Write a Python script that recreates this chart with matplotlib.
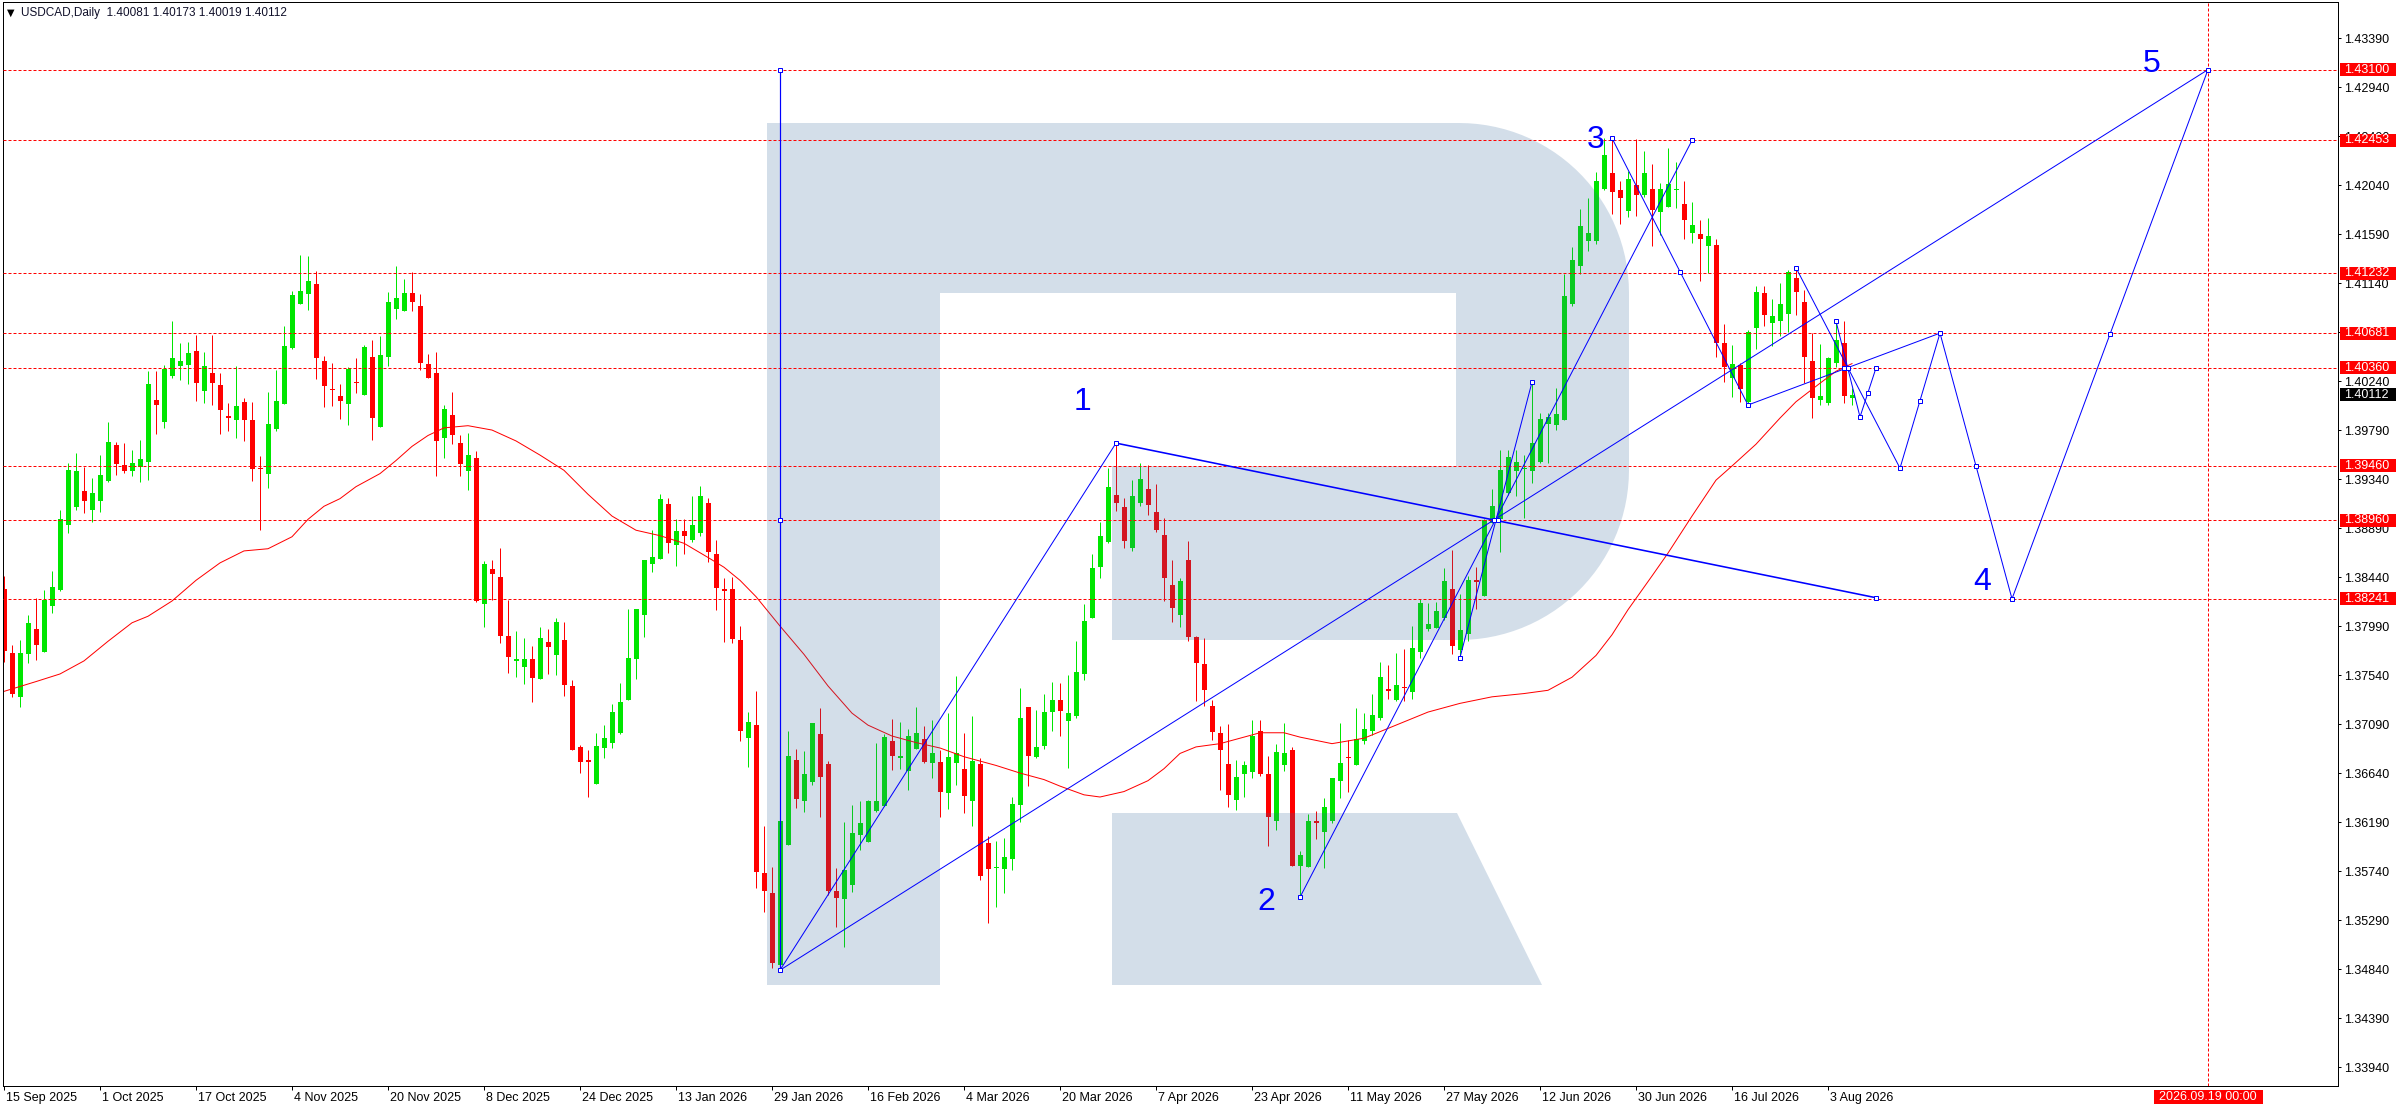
import numpy as np
import matplotlib

matplotlib.use("Agg")
import matplotlib.pyplot as plt
import matplotlib.transforms as mtransforms
from matplotlib.patches import PathPatch, Rectangle
from matplotlib.path import Path

W, H, DPI = 2396, 1110, 100
PX = 72 / DPI  # one pixel in points

plt.rcParams["font.family"] = ["Liberation Sans", "DejaVu Sans"]
plt.rcParams["lines.scale_dashes"] = False

BULL = "#00e600"
BEAR = "#ff0000"
BLUE = "#0000ff"
WATERMARK = "#30659a"

# ---- daily USDCAD bars, 15 Sep 2025 .. 6 Aug 2026 ----
opens = [
    1.3833, 1.3774, 1.3734, 1.3773, 1.3796, 1.3775, 1.3817, 1.3832, 1.3892, 1.3908,
    1.3923, 1.3906, 1.3914, 1.3932, 1.3965, 1.3947, 1.3941, 1.3945, 1.3950, 1.4007,
    1.3986, 1.4029, 1.4038, 1.4039, 1.4052, 1.4015, 1.4031, 1.4020, 1.3992, 1.3988,
    1.4005, 1.3988, 1.3944, 1.3939, 1.3980, 1.4003, 1.4054, 1.4095, 1.4104, 1.4113,
    1.4042, 1.4017, 1.4010, 1.4003, 1.4023, 1.4011, 1.4046, 1.3982, 1.4046, 1.4090,
    1.4088, 1.4105, 1.4093, 1.4040, 1.4031, 1.3972, 1.3993, 1.3967, 1.3941, 1.3953,
    1.3819, 1.3851, 1.3844, 1.3790, 1.3767, 1.3761, 1.3769, 1.3750, 1.3784, 1.3772,
    1.3786, 1.3744, 1.3688, 1.3676, 1.3654, 1.3687, 1.3692, 1.3701, 1.3731, 1.3769,
    1.3809, 1.3856, 1.3861, 1.3911, 1.3873, 1.3886, 1.3878, 1.3884, 1.3912, 1.3865,
    1.3833, 1.3833, 1.3786, 1.3696, 1.3708, 1.3572, 1.3554, 1.3488, 1.3598, 1.3676,
    1.3638, 1.3656, 1.3700, 1.3672, 1.3556, 1.3548, 1.3561, 1.3607, 1.3601, 1.3629,
    1.3634, 1.3693, 1.3678, 1.3666, 1.3686, 1.3695, 1.3673, 1.3674, 1.3646, 1.3673,
    1.3668, 1.3638, 1.3672, 1.3600, 1.3577, 1.3576, 1.3585, 1.3635, 1.3725, 1.3679,
    1.3689, 1.3720, 1.3731, 1.3712, 1.3716, 1.3755, 1.3806, 1.3853, 1.3876, 1.3919,
    1.3908, 1.3871, 1.3912, 1.3925, 1.3904, 1.3883, 1.3837, 1.3809, 1.3860, 1.3789,
    1.3764, 1.3726, 1.3701, 1.3672, 1.3639, 1.3663, 1.3665, 1.3703, 1.3663, 1.3620,
    1.3671, 1.3685, 1.3579, 1.3578, 1.3620, 1.3610, 1.3620, 1.3657, 1.3679, 1.3671,
    1.3693, 1.3703, 1.3715, 1.3741, 1.3731, 1.3743, 1.3738, 1.3775, 1.3796, 1.3797,
    1.3806, 1.3833, 1.3777, 1.3792, 1.3841, 1.3827, 1.3894, 1.3897, 1.3921, 1.3941,
    1.3943, 1.3941, 1.3950, 1.3985, 1.3984, 1.3988, 1.4095, 1.4130, 1.4153, 1.4153,
    1.4200, 1.4215, 1.4199, 1.4180, 1.4204, 1.4195, 1.4200, 1.4179, 1.4184, 1.4199,
    1.4187, 1.4160, 1.4159, 1.4148, 1.4149, 1.4059, 1.4027, 1.4039, 1.4005, 1.4073,
    1.4105, 1.4077, 1.4079, 1.4086, 1.4119, 1.4097, 1.4042, 1.4007, 1.4004, 1.4041,
    1.4059, 1.40081,
]
highs = [
    1.3845, 1.3782, 1.3786, 1.3809, 1.3825, 1.3832, 1.3850, 1.3906, 1.3949, 1.3958,
    1.3945, 1.3935, 1.3956, 1.3986, 1.3968, 1.3967, 1.3961, 1.3970, 1.4033, 1.4033,
    1.4039, 1.4079, 1.4059, 1.4060, 1.4066, 1.4051, 1.4066, 1.4031, 1.4004, 1.4038,
    1.4008, 1.4005, 1.3955, 1.4014, 1.4034, 1.4075, 1.4107, 1.4140, 1.4139, 1.4125,
    1.4047, 1.4041, 1.4021, 1.4037, 1.4045, 1.4057, 1.4062, 1.4065, 1.4106, 1.4130,
    1.4118, 1.4124, 1.4104, 1.4049, 1.4051, 1.4002, 1.4014, 1.3974, 1.3976, 1.3960,
    1.3859, 1.3860, 1.3871, 1.3823, 1.3794, 1.3788, 1.3781, 1.3798, 1.3796, 1.3806,
    1.3803, 1.3749, 1.3690, 1.3685, 1.3701, 1.3708, 1.3727, 1.3747, 1.3815, 1.3815,
    1.3860, 1.3887, 1.3920, 1.3917, 1.3897, 1.3897, 1.3918, 1.3928, 1.3917, 1.3878,
    1.3843, 1.3844, 1.3799, 1.3720, 1.3739, 1.3615, 1.3578, 1.3620, 1.3703, 1.3686,
    1.3684, 1.3710, 1.3724, 1.3675, 1.3577, 1.3619, 1.3635, 1.3638, 1.3639, 1.3692,
    1.3700, 1.3714, 1.3711, 1.3704, 1.3725, 1.3707, 1.3713, 1.3685, 1.3719, 1.3753,
    1.3701, 1.3716, 1.3678, 1.3606, 1.3602, 1.3604, 1.3642, 1.3742, 1.3725, 1.3722,
    1.3737, 1.3748, 1.3747, 1.3754, 1.3785, 1.3819, 1.3865, 1.3895, 1.3944, 1.3967,
    1.3917, 1.3933, 1.3949, 1.3947, 1.3929, 1.3898, 1.3860, 1.3843, 1.3877, 1.3790,
    1.3788, 1.3731, 1.3707, 1.3709, 1.3676, 1.3675, 1.3713, 1.3713, 1.3680, 1.3691,
    1.3710, 1.3688, 1.3592, 1.3626, 1.3629, 1.3641, 1.3659, 1.3710, 1.3694, 1.3724,
    1.3719, 1.3737, 1.3766, 1.3763, 1.3774, 1.3778, 1.3799, 1.3824, 1.3820, 1.3821,
    1.3852, 1.3869, 1.3828, 1.3845, 1.3853, 1.3897, 1.3925, 1.3961, 1.3961, 1.3961,
    1.3956, 1.4023, 1.3995, 1.3995, 1.4018, 1.4122, 1.4147, 1.4182, 1.4192, 1.4216,
    1.4247, 1.4247, 1.4208, 1.4217, 1.4246, 1.4235, 1.4223, 1.4206, 1.4238, 1.4225,
    1.4208, 1.4188, 1.4172, 1.4174, 1.4154, 1.4076, 1.4057, 1.4041, 1.4071, 1.4111,
    1.4111, 1.4099, 1.4114, 1.4126, 1.4128, 1.4108, 1.4068, 1.4058, 1.4046, 1.4080,
    1.4079, 1.40173,
]
lows = [
    1.3766, 1.3734, 1.3725, 1.3765, 1.3768, 1.3775, 1.3811, 1.3831, 1.3884, 1.3906,
    1.3903, 1.3895, 1.3904, 1.3931, 1.3938, 1.3940, 1.3937, 1.3931, 1.3933, 1.3975,
    1.3981, 1.4027, 1.4025, 1.4021, 1.4006, 1.4004, 1.4002, 1.3975, 1.3978, 1.3972,
    1.3969, 1.3932, 1.3887, 1.3926, 1.3978, 1.4003, 1.4053, 1.4095, 1.4089, 1.4026,
    1.4000, 1.4001, 1.3989, 1.3984, 1.4013, 1.4011, 1.3970, 1.3982, 1.4038, 1.4081,
    1.4088, 1.4088, 1.4034, 1.4027, 1.3937, 1.3953, 1.3966, 1.3937, 1.3924, 1.3821,
    1.3798, 1.3823, 1.3783, 1.3756, 1.3752, 1.3746, 1.3729, 1.3750, 1.3755, 1.3754,
    1.3735, 1.3685, 1.3664, 1.3642, 1.3654, 1.3678, 1.3687, 1.3700, 1.3731, 1.3750,
    1.3789, 1.3849, 1.3861, 1.3866, 1.3854, 1.3865, 1.3876, 1.3882, 1.3858, 1.3814,
    1.3784, 1.3783, 1.3693, 1.3670, 1.3558, 1.3536, 1.3485, 1.3483, 1.3598, 1.3632,
    1.3628, 1.3653, 1.3624, 1.3552, 1.3523, 1.3504, 1.3555, 1.3593, 1.3601, 1.3628,
    1.3634, 1.3667, 1.3668, 1.3648, 1.3686, 1.3673, 1.3659, 1.3624, 1.3631, 1.3653,
    1.3627, 1.3615, 1.3566, 1.3526, 1.3541, 1.3554, 1.3575, 1.3619, 1.3652, 1.3678,
    1.3686, 1.3703, 1.3698, 1.3669, 1.3715, 1.3749, 1.3806, 1.3843, 1.3875, 1.3905,
    1.3871, 1.3868, 1.3909, 1.3901, 1.3885, 1.3822, 1.3803, 1.3798, 1.3785, 1.3730,
    1.3726, 1.3694, 1.3648, 1.3633, 1.3630, 1.3642, 1.3659, 1.3661, 1.3597, 1.3612,
    1.3666, 1.3579, 1.3550, 1.3578, 1.3603, 1.3577, 1.3618, 1.3641, 1.3647, 1.3671,
    1.3691, 1.3699, 1.3713, 1.3732, 1.3730, 1.3730, 1.3732, 1.3770, 1.3794, 1.3797,
    1.3805, 1.3773, 1.3770, 1.3785, 1.3815, 1.3827, 1.3894, 1.3867, 1.3919, 1.3918,
    1.3898, 1.3930, 1.3949, 1.3949, 1.3979, 1.3988, 1.4093, 1.4122, 1.4143, 1.4150,
    1.4199, 1.4177, 1.4168, 1.4175, 1.4176, 1.4193, 1.4148, 1.4158, 1.4184, 1.4183,
    1.4154, 1.4151, 1.4116, 1.4123, 1.4046, 1.4023, 1.4009, 1.4005, 1.4002, 1.4053,
    1.4075, 1.4056, 1.4065, 1.4069, 1.4085, 1.4022, 1.3990, 1.4002, 1.4002, 1.4037,
    1.4004, 1.40019,
]
closes = [
    1.3776, 1.3737, 1.3774, 1.3802, 1.3782, 1.3823, 1.3835, 1.3897, 1.3942, 1.3941,
    1.3914, 1.3921, 1.3938, 1.3968, 1.3948, 1.3941, 1.3949, 1.3952, 1.4021, 1.4002,
    1.4035, 1.4045, 1.4042, 1.4050, 1.4022, 1.4038, 1.4022, 1.3997, 1.3990, 1.4001,
    1.3988, 1.3943, 1.3943, 1.3985, 1.4006, 1.4056, 1.4103, 1.4107, 1.4116, 1.4045,
    1.4019, 1.4016, 1.4006, 1.4035, 1.4022, 1.4055, 1.3990, 1.4048, 1.4097, 1.4100,
    1.4105, 1.4097, 1.4041, 1.4027, 1.3969, 1.3998, 1.3974, 1.3948, 1.3956, 1.3822,
    1.3856, 1.3847, 1.3790, 1.3771, 1.3769, 1.3769, 1.3751, 1.3788, 1.3780, 1.3803,
    1.3745, 1.3685, 1.3674, 1.3674, 1.3689, 1.3696, 1.3720, 1.3729, 1.3770, 1.3815,
    1.3860, 1.3862, 1.3916, 1.3875, 1.3886, 1.3882, 1.3892, 1.3918, 1.3867, 1.3834,
    1.3831, 1.3787, 1.3703, 1.3711, 1.3573, 1.3556, 1.3490, 1.3620, 1.3680, 1.3640,
    1.3663, 1.3710, 1.3660, 1.3556, 1.3549, 1.3575, 1.3609, 1.3618, 1.3638, 1.3638,
    1.3697, 1.3680, 1.3680, 1.3698, 1.3701, 1.3674, 1.3682, 1.3647, 1.3679, 1.3682,
    1.3643, 1.3675, 1.3569, 1.3576, 1.3577, 1.3587, 1.3636, 1.3715, 1.3680, 1.3688,
    1.3720, 1.3731, 1.3721, 1.3719, 1.3757, 1.3804, 1.3852, 1.3882, 1.3927, 1.3912,
    1.3877, 1.3918, 1.3934, 1.3910, 1.3887, 1.3843, 1.3816, 1.3840, 1.3789, 1.3765,
    1.3740, 1.3702, 1.3685, 1.3644, 1.3660, 1.3671, 1.3698, 1.3663, 1.3624, 1.3683,
    1.3682, 1.3579, 1.3589, 1.3620, 1.3618, 1.3633, 1.3659, 1.3673, 1.3678, 1.3695,
    1.3704, 1.3717, 1.3752, 1.3739, 1.3745, 1.3742, 1.3779, 1.3820, 1.3801, 1.3813,
    1.3840, 1.3781, 1.3795, 1.3841, 1.3839, 1.3896, 1.3909, 1.3942, 1.3954, 1.3950,
    1.3944, 1.3967, 1.3989, 1.3991, 1.3994, 1.4102, 1.4135, 1.4166, 1.4160, 1.4208,
    1.4232, 1.4198, 1.4192, 1.4210, 1.4195, 1.4215, 1.4181, 1.4200, 1.4205, 1.4200,
    1.4172, 1.4167, 1.4154, 1.4157, 1.4059, 1.4037, 1.4040, 1.4017, 1.4069, 1.4106,
    1.4085, 1.4084, 1.4095, 1.4124, 1.4106, 1.4046, 1.4008, 1.4010, 1.4045, 1.4062,
    1.4010, 1.40112,
]

# moving average line (bar index, value)
ma_bars = [0, 4, 7, 10, 13, 16, 18, 21, 24, 27, 30, 33, 36, 38, 40, 42, 44, 47, 49, 51,
           53, 55, 58, 61, 64, 67, 70, 73, 76, 79, 82, 85, 88, 90, 92, 94, 97, 100, 103,
           106, 108, 111, 114, 117, 120, 124, 127, 130, 132, 135, 137, 140, 143, 145,
           147, 149, 152, 155, 157, 160, 162, 166, 170, 174, 178, 182, 186, 190, 193,
           196, 199, 201, 203, 206, 208, 211, 214, 216, 219, 222, 224, 227, 229, 231]
ma_values = [1.3739, 1.3748, 1.3755, 1.3767, 1.3785, 1.3802, 1.3808, 1.3822, 1.3841, 1.3857,
             1.3868, 1.3870, 1.3881, 1.3897, 1.3909, 1.3916, 1.3927, 1.3939, 1.3951, 1.3964,
             1.3974, 1.3981, 1.3983, 1.3979, 1.3969, 1.3956, 1.3942, 1.3920, 1.3900, 1.3887,
             1.3882, 1.3875, 1.3862, 1.3853, 1.3841, 1.3826, 1.3799, 1.3773, 1.3744, 1.3719,
             1.3708, 1.3698, 1.3692, 1.3687, 1.3679, 1.3671, 1.3664, 1.3658, 1.3652, 1.3644,
             1.3642, 1.3647, 1.3657, 1.3668, 1.3682, 1.3688, 1.3691, 1.3697, 1.3701, 1.3701,
             1.3697, 1.3691, 1.3696, 1.3708, 1.3720, 1.3728, 1.3734, 1.3737, 1.3740, 1.3752,
             1.3772, 1.3791, 1.3814, 1.3845, 1.3866, 1.3900, 1.3933, 1.3946, 1.3966, 1.3990,
             1.4005, 1.4022, 1.4033, 1.4040]

date_labels = ["15 Sep 2025", "1 Oct 2025", "17 Oct 2025", "4 Nov 2025", "20 Nov 2025",
               "8 Dec 2025", "24 Dec 2025", "13 Jan 2026", "29 Jan 2026", "16 Feb 2026",
               "4 Mar 2026", "20 Mar 2026", "7 Apr 2026", "23 Apr 2026", "11 May 2026",
               "27 May 2026", "12 Jun 2026", "30 Jun 2026", "16 Jul 2026", "3 Aug 2026"]
BARS_PER_LABEL = 12

price_ticks = [1.43390, 1.42940, 1.42490, 1.42040, 1.41590, 1.41140, 1.40690, 1.40240,
               1.39790, 1.39340, 1.38890, 1.38440, 1.37990, 1.37540, 1.37090, 1.36640,
               1.36190, 1.35740, 1.35290, 1.34840, 1.34390, 1.33940]

level_prices = [1.43100, 1.42453, 1.41232, 1.40681, 1.40360, 1.39460, 1.38960, 1.38241]
level_labels = ["1.43100", "1.42453", "1.41232", "1.40681", "1.40360", "1.39460", "1.38960", "1.38241"]
last_price = 1.40112
target_bar = 275.5
target_label = "2026.09.19 00:00"

# wave drawing objects: (bar0, price0, bar1, price1)
wave_segments = [
    (97, 1.4310, 97, 1.3483),
    (97, 1.3483, 139, 1.3967),
    (139, 1.3967, 234, 1.3825),
    (97, 1.3483, 275.5, 1.4310),
    (162, 1.3550, 211, 1.4245),
    (182, 1.3770, 191, 1.4023),
    (201, 1.4247, 218, 1.4002),
    (218, 1.4002, 242, 1.4068),
    (224, 1.4128, 237, 1.3944),
    (229, 1.4079, 232, 1.3991),
    (232, 1.3991, 234, 1.4036),
    (237, 1.3944, 242, 1.4068),
    (242, 1.4068, 251, 1.3824),
    (251, 1.3824, 275.5, 1.4310),
]
wave_widths = [1.2, 1, 1.6, 1, 1, 1, 1, 1, 1, 1, 1, 1, 1, 1]
anchor_bars = [97, 97, 97, 139, 162, 186.2, 186.7, 182, 191, 201, 211, 209.5, 218, 224, 229,
               230, 230.5, 232, 233, 234, 234, 237, 239.5, 242, 246.5, 251, 263.2, 275.5]
anchor_prices = [1.4310, 1.3896, 1.3483, 1.3967, 1.3550, 1.3896, 1.3896, 1.3770, 1.4023,
                 1.4247, 1.4245, 1.4124, 1.4002, 1.4128, 1.4079, 1.4036, 1.4036, 1.3991,
                 1.4013, 1.4036, 1.3825, 1.3944, 1.4006, 1.4068, 1.3946, 1.3824, 1.4067,
                 1.4310]
wave_names = ["1", "2", "3", "4", "5"]
wave_name_bars = [134.8, 157.8, 198.9, 247.3, 268.4]
wave_name_prices = [1.4005, 1.3546, 1.4245, 1.3839, 1.4315]

# ---- figure layout (pixel geometry of the terminal window) ----
fig = plt.figure(figsize=(W / DPI, H / DPI), dpi=DPI, facecolor="white")
ax_left, ax_right, ax_top, ax_bottom = 3, 2338, 2, 1086
ax = fig.add_axes([ax_left / W, 1 - ax_bottom / H, (ax_right - ax_left) / W, (ax_bottom - ax_top) / H])
ax.set_facecolor("white")

BAR_PX = 8
x_min = -0.125
x_max = x_min + (ax_right - ax_left) / BAR_PX
y_min, y_max = 1.33766, 1.43721
ax.set_xlim(x_min, x_max)
ax.set_ylim(y_min, y_max)
ppu = (ax_bottom - ax_top) / (y_max - y_min)  # pixels per price unit

# ---- candles ----
o = np.array(opens)
hi = np.array(highs)
lo = np.array(lows)
c = np.array(closes)
x = np.arange(len(o))
up = c >= o
colors = np.where(up, BULL, BEAR)
body_low = np.minimum(o, c)
body_h = np.maximum(np.abs(c - o), 1.0 / ppu)
ax.vlines(x, lo, hi, colors=colors, lw=PX, zorder=2)
ax.bar(x, body_h, bottom=body_low, width=5 / BAR_PX, color=colors, lw=0, zorder=2.1)

ax.plot(ma_bars, ma_values, color=BEAR, lw=PX, zorder=2.5)

# ---- watermark logo (image pixel coordinates, y down) ----
def arc(cx, cy, rx, ry, a0, a1, n=30):
    t = np.radians(np.linspace(a0, a1, n))
    return list(zip(cx + rx * np.cos(t), cy + ry * np.sin(t)))

outer = ([(767, 123), (1459, 123)] + arc(1459, 293, 170, 170, -90, 0)
         + arc(1459, 470, 170, 170, 0, 90)
         + [(1112, 640), (1112, 466), (1456, 466), (1456, 293), (940, 293), (940, 985), (767, 985)])
leg = [(1112, 813), (1457, 813), (1542, 985), (1112, 985)]
verts, codes = [], []
for poly in (outer, leg):
    verts += poly + [poly[0]]
    codes += [Path.MOVETO] + [Path.LINETO] * (len(poly) - 1) + [Path.CLOSEPOLY]
img_px = mtransforms.Affine2D().scale(1 / W, -1 / H).translate(0, 1) + fig.transFigure
ax.add_patch(PathPatch(Path(verts, codes), transform=img_px, fc=WATERMARK, ec="none",
                       alpha=0.21, zorder=3, clip_on=False))

# ---- horizontal levels and time marker ----
for p in level_prices:
    ax.axhline(p, color=BEAR, lw=PX, dashes=(3 * PX, 2 * PX), zorder=4)
ax.axvline(target_bar, color=BEAR, lw=PX, dashes=(3 * PX, 2 * PX), zorder=4)

# ---- wave drawings ----
for (b0, p0, b1, p1), w in zip(wave_segments, wave_widths):
    ax.plot([b0, b1], [p0, p1], color=BLUE, lw=w * PX, zorder=5, solid_capstyle="butt")
ax.plot(anchor_bars, anchor_prices, ls="none", marker="s", ms=5 * PX, mfc="white",
        mec=BLUE, mew=PX, zorder=6)
for name, b, p in zip(wave_names, wave_name_bars, wave_name_prices):
    ax.text(b, p, name, color=BLUE, fontsize=23, ha="center", va="center", zorder=7)

# ---- axes styling ----
for s in ax.spines.values():
    s.set_color("black")
    s.set_linewidth(PX)

ax.yaxis.tick_right()
ax.set_yticks(price_ticks)
ax.set_yticklabels([f"{p:.5f}" for p in price_ticks])
ax.tick_params(axis="y", direction="out", length=3 * PX, width=PX, pad=3 * PX,
               labelsize=9, colors="black")

ax.set_xticks([BARS_PER_LABEL * i for i in range(len(date_labels))])
ax.set_xticklabels(date_labels)
ax.tick_params(axis="x", direction="out", length=4 * PX, width=PX, pad=2 * PX,
               labelsize=9, colors="black")
shift = mtransforms.ScaledTranslation(2 / DPI, 0, fig.dpi_scale_trans)
for lbl in ax.get_xticklabels():
    lbl.set_horizontalalignment("left")
    lbl.set_transform(lbl.get_transform() + shift)

# ---- price boxes on the right scale ----
box_tr = mtransforms.blended_transform_factory(fig.transFigure, ax.transData)
box_h = 13 / ppu


def price_box(price, text, face):
    ax.add_patch(Rectangle((2340 / W, price - box_h / 2), 56 / W, box_h, transform=box_tr,
                           fc=face, ec="none", clip_on=False, zorder=20))
    ax.text(2344 / W, price, text, transform=box_tr, color="white", fontsize=9,
            ha="left", va="center", zorder=21, clip_on=False)


for p, t in zip(level_prices, level_labels):
    price_box(p, t, BEAR)
price_box(last_price, f"{last_price:.5f}", "black")

# time box on the date scale
time_tr = mtransforms.blended_transform_factory(ax.transData, fig.transFigure)
ax.add_patch(Rectangle((target_bar - 54.5 / BAR_PX, 1 - 1104 / H), 109 / BAR_PX, 14 / H,
                       transform=time_tr, fc=BEAR, ec="none", clip_on=False, zorder=20))
ax.text(target_bar, 1 - 1097 / H, target_label, transform=time_tr, color="white",
        fontsize=9, ha="center", va="center", zorder=21, clip_on=False)

# ---- header ----
fig.text(7 / W, 1 - 13 / H, "\u25bc", fontsize=7, color="black", va="center", ha="left",
         family=["DejaVu Sans"])
fig.text(21 / W, 1 - 13 / H, "USDCAD,Daily  1.40081 1.40173 1.40019 1.40112",
         fontsize=8.5, color="#10102a", va="center", ha="left")

fig.savefig("out.png", dpi=DPI, facecolor="white")
